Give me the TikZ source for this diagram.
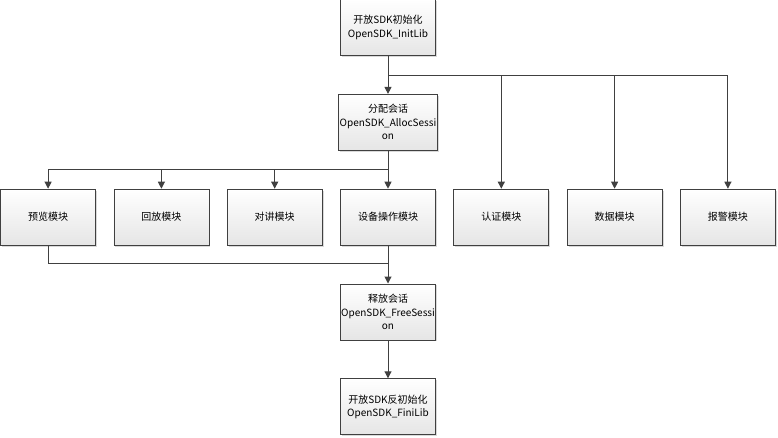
\documentclass[tikz,border=0pt]{standalone}
\usepackage{fontspec}
\setmainfont{Noto Sans CJK SC}
\usetikzlibrary{arrows.meta,positioning,shadows}

\begin{document}
\begin{tikzpicture}[
    x=1pt, y=1pt,
    node distance=38pt and 17.5pt,
    mod/.style={
        rectangle, draw=black!75, line width=0.8pt,
        top color=white, bottom color=black!10,
        drop shadow={shadow xshift=1.5pt, shadow yshift=-1.5pt, fill=black!25, opacity=0.6},
        minimum width=95pt, minimum height=56pt, inner sep=1pt,
        align=center, font=\fontsize{10}{13.5}\selectfont
    },
    arr/.style={-{Triangle[length=7pt,width=7pt]}, line width=1pt, black!75},
    line/.style={line width=1pt, black!75},
]
\useasboundingbox (0,0) rectangle (778,-437);

% Init and session
\node[mod] (init) at (388,-27.5) {开放SDK初始化\\OpenSDK\_InitLib};
\node[mod, below=of init] (alloc) {分配会话\\OpenSDK\_AllocSessi\\on};

% Modules
\node[mod, below=of alloc] (dev) {设备操作模块};
\node[mod, left=of dev] (talk) {对讲模块};
\node[mod, left=of talk] (playback) {回放模块};
\node[mod, left=of playback] (preview) {预览模块};
\node[mod, right=of dev] (auth) {认证模块};
\node[mod, right=of auth] (data) {数据模块};
\node[mod, right=of data] (alarm) {报警模块};

% Release
\node[mod, below=of dev] (release) {释放会话\\OpenSDK\_FreeSessi\\on};
\node[mod, below=of release] (fini) {开放SDK反初始化\\OpenSDK\_FiniLib};

% Bus points
\coordinate[below=20pt of init] (bustop);
\coordinate[below=19pt of alloc] (busmid);
\coordinate[below=18pt of dev] (busbot);

% Arrows
\draw[arr] (init) -- (alloc);
\foreach \m in {auth,data,alarm}
    \draw[arr] (bustop) -| (\m);
\draw[arr] (alloc) -- (dev);
\foreach \m in {preview,playback,talk}
    \draw[arr] (busmid) -| (\m);
\draw[line] (preview) |- (busbot);
\draw[arr] (dev) -- (release);
\draw[arr] (release) -- (fini);
\end{tikzpicture}
\end{document}
